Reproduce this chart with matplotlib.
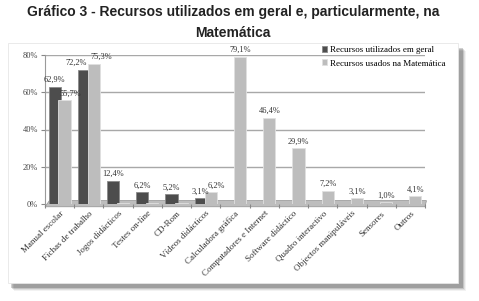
import matplotlib
matplotlib.use("Agg")
import matplotlib.pyplot as plt
import numpy as np
from matplotlib.patches import Rectangle, Polygon

categories = ["Manual escolar", "Fichas de trabalho", "Jogos didácticos", "Testes on-line",
              "CD-Rom", "Vídeos didácticos", "Calculadora gráfica", "Computadores e Internet",
              "Software didáctico", "Quadro interactivo", "Objectos manipuláveis",
              "Sensores", "Outros"]
geral = [62.9, 72.2, 12.4, 6.2, 5.2, 3.1, 0, 0, 0, 0, 0, 0, 0]
matematica = [55.7, 75.3, 0.5, 0.5, 0.5, 6.2, 79.1, 46.4, 29.9, 7.2, 3.1, 1.0, 4.1]
geral_labels = ["62,9%", "72,2%", "12,4%", "6,2%", "5,2%", "3,1%", "", "", "", "", "", "", ""]
mat_labels = ["55,7%", "75,3%", "", "", "", "6,2%", "79,1%", "46,4%", "29,9%", "7,2%", "3,1%", "1,0%", "4,1%"]
yticks = [0, 20, 40, 60, 80]
ytick_labels = ["0%", "20%", "40%", "60%", "80%"]

W, H = 479, 301
fig = plt.figure(figsize=(W / 100, H / 100), dpi=100)
fig.patch.set_facecolor("white")

# panel shadow and panel
for i, a in enumerate([0.05, 0.08, 0.12, 0.18]):
    d = 4 - i
    fig.patches.append(Rectangle(((10 + d) / W, 1 - (287 + d) / H), (452) / W, (240) / H,
                                 transform=fig.transFigure, facecolor="black", alpha=a,
                                 edgecolor="none", zorder=0))
fig.patches.append(Rectangle((8 / W, 1 - 283 / H), 450 / W, 240 / H,
                             transform=fig.transFigure, facecolor="white",
                             edgecolor="#e6e6e6", lw=0.6, zorder=1))

tx = 233 / W
fig.text(tx, 1 - 12 / H, "Gráfico 3 - Recursos utilizados em geral e, particularmente, na",
         ha="center", va="center", fontsize=10, fontweight="bold",
         family="Liberation Sans", color="#222222")
fig.text(tx, 1 - 33 / H, "Matemática", ha="center", va="center", fontsize=10,
         fontweight="bold", family="Liberation Sans", color="#222222")

ax = fig.add_axes([45 / W, 1 - 204 / H, 380 / W, 149 / H])
ax.set_facecolor("none")
ax.set_zorder(2)
x = np.arange(len(categories))
ax.set_xlim(-0.5, len(categories) - 0.5)
ax.set_ylim(0, 80)

for yv in yticks[1:]:
    ax.axhline(yv, color="#a8a8a8", lw=1.0, zorder=0)

# floor
ax.add_patch(Polygon([[-0.5, -1.5], [len(categories) - 0.5, -1.5],
                      [len(categories) - 0.45, 1.8], [-0.35, 1.8]],
                     closed=True, facecolor="#bdbdbd", edgecolor="#8f8f8f",
                     lw=0.5, zorder=1, clip_on=False))

bw = 0.42
off = 0.17
b1 = ax.bar(x - off, geral, bw, color="#4d4d4d", edgecolor="#8a8a8a", lw=0.6, zorder=3)
b2 = ax.bar(x + off, matematica, bw, color="#bdbdbd", edgecolor="#e0e0e0", lw=0.6, zorder=4)

# manual label nudges (in category units) to avoid collisions, as in the original
geral_nudge = {1: -0.25}
mat_nudge = {0: 0.2, 1: 0.25, 5: 0.2}

for i, (xi, v, t) in enumerate(zip(x, geral, geral_labels)):
    if t:
        ax.text(xi - off + geral_nudge.get(i, 0), v + 1.5, t, ha="center", va="bottom",
                fontsize=6, family="Liberation Serif", color="#333333", zorder=6)
for i, (xi, v, t) in enumerate(zip(x, matematica, mat_labels)):
    if t:
        ax.text(xi + off + mat_nudge.get(i, 0), v + 1.5, t, ha="center", va="bottom",
                fontsize=6, family="Liberation Serif", color="#333333", zorder=6,
                clip_on=False)

ax.set_yticks(yticks)
ax.set_yticklabels(ytick_labels, family="Liberation Serif", fontsize=6, color="#444444")
ax.set_xticks(np.arange(-0.5, len(categories), 1.0), minor=False)
ax.set_xticklabels([])
ax.set_xticks(x, minor=True)
ax.set_xticklabels(categories, minor=True, rotation=45, ha="right", rotation_mode="anchor",
                   family="Liberation Serif", fontsize=6.5, color="#333333")
ax.tick_params(axis="x", which="minor", length=0, pad=4)
ax.tick_params(axis="x", which="major", length=3, color="#888888")
ax.tick_params(axis="y", length=3, color="#888888", pad=2)
for s in ["top", "right"]:
    ax.spines[s].set_visible(False)
ax.spines["left"].set_color("#9a9a9a")
ax.spines["bottom"].set_visible(False)

leg = ax.legend([b1, b2], ["Recursos utilizados em geral", "Recursos usados na Matemática"],
                loc="upper left", bbox_to_anchor=(322 / W, 1 - 46 / H),
                bbox_transform=fig.transFigure, frameon=False,
                prop={"family": "Liberation Serif", "size": 6.5},
                handlelength=0.6, handleheight=0.6, handletextpad=0.3,
                labelspacing=0.6, borderpad=0, borderaxespad=0)

fig.savefig("out.png", dpi=100, facecolor="white")
